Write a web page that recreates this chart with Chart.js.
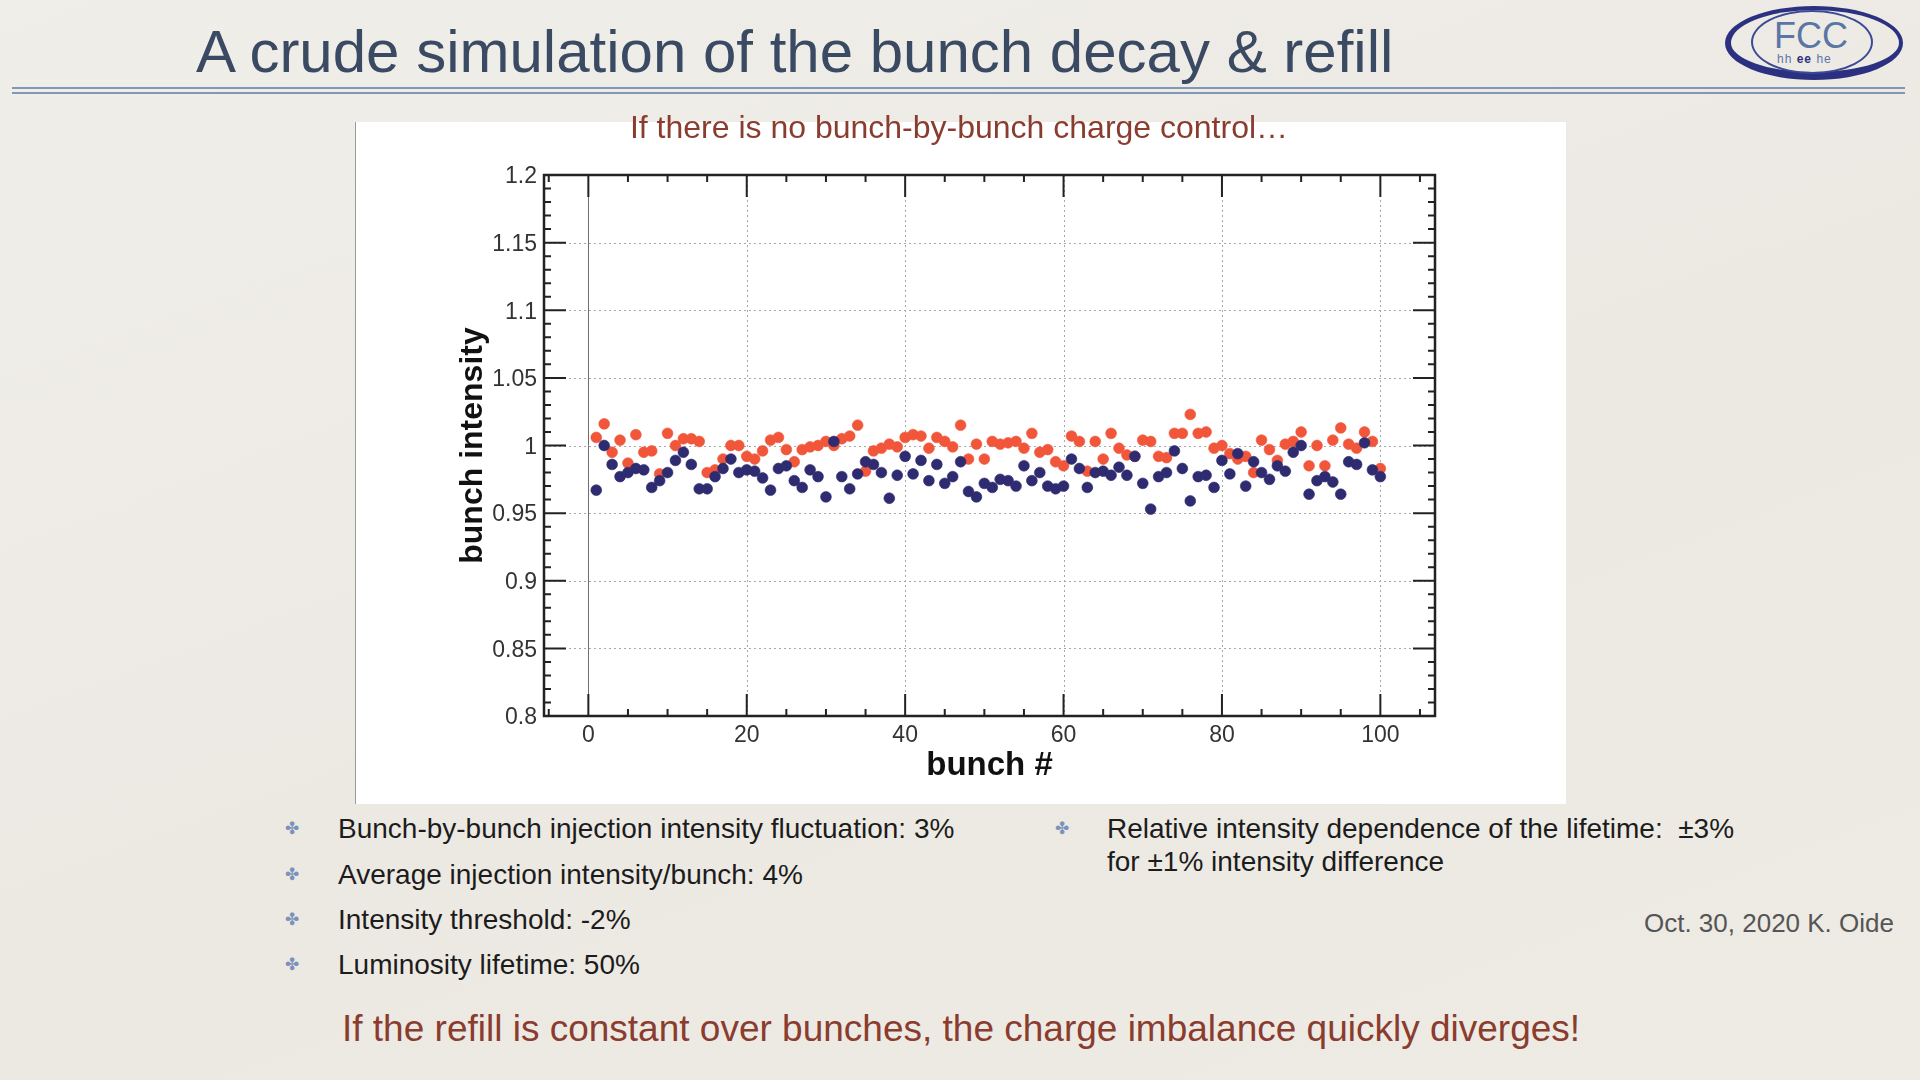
<!DOCTYPE html>
<html>
<head>
<meta charset="utf-8">
<script src="https://cdn.jsdelivr.net/npm/chart.js@4.4.1/dist/chart.umd.min.js"></script>
<style>
  html, body { margin: 0; padding: 0; }
  body {
    width: 1920px; height: 1080px; position: relative; overflow: hidden;
    background: linear-gradient(160deg, #f0eee9 0%, #ece9e3 55%, #eeebe5 100%);
    font-family: "Liberation Sans", Arial, Helvetica, sans-serif;
  }
  .abs { position: absolute; white-space: nowrap; line-height: 1; }
  #title { left: 196px; top: 22px; font-size: 60px; color: #3b4a63; }
  .rule { position: absolute; left: 12px; width: 1893px; height: 2px; background: #8097b5; }
  #panel { position: absolute; left: 355px; top: 122px; background: #fff; border-left: 1px solid #9a9a9a; }
  #subtitle { left: 959px; top: 111px; transform: translateX(-50%); font-size: 32px; color: #8a3c2f; }
  .bul { font-size: 17px; color: #7b93bb; font-family: "DejaVu Sans", sans-serif; }
  .txt { font-size: 28px; color: #1c1c1c; }
  #date { right: 26px; top: 910px; font-size: 26px; color: #555; }
  #bottom { left: 342px; top: 1010px; font-size: 37px; color: #8a3c2f; }
  #logo { position: absolute; left: 1725px; top: 6px; width: 178px; height: 74px; }
  #logo .outer { position: absolute; inset: 0; border-radius: 50%; border: 4px solid #2b3180; border-bottom-width: 8px; border-left-width: 6px; box-sizing: border-box; }
  #logo .inner { position: absolute; left: 26px; top: 4px; width: 122px; height: 64px; border-radius: 50%; border: 2px solid #3c4a96; box-sizing: border-box; }
  #logo .fcc { position: absolute; left: 49px; top: 12px; font-size: 36px; color: #5a76a6; line-height: 1; }
  #logo .hh { position: absolute; left: 52px; top: 47px; font-size: 12px; color: #5a76a6; letter-spacing: 1px; line-height: 1; }
</style>
</head>
<body>
<div id="title" class="abs">A crude simulation of the bunch decay &amp; refill</div>
<div class="rule" style="top:87px"></div>
<div class="rule" style="top:92px"></div>
<div id="logo">
  <div class="outer"></div>
  <div class="inner"></div>
  <div class="fcc">FCC</div>
  <div class="hh">hh <b style="color:#2b3180">ee</b> he</div>
</div>

<div id="panel"><canvas id="chart" width="1210" height="682"></canvas></div>
<div id="subtitle" class="abs">If there is no bunch-by-bunch charge control…</div>

<div class="abs bul" style="left:285px;top:820px">✤</div>
<div class="abs txt" style="left:338px;top:815px">Bunch-by-bunch injection intensity fluctuation: 3%</div>
<div class="abs bul" style="left:285px;top:866px">✤</div>
<div class="abs txt" style="left:338px;top:861px">Average injection intensity/bunch: 4%</div>
<div class="abs bul" style="left:285px;top:911px">✤</div>
<div class="abs txt" style="left:338px;top:906px">Intensity threshold: -2%</div>
<div class="abs bul" style="left:285px;top:956px">✤</div>
<div class="abs txt" style="left:338px;top:951px">Luminosity lifetime: 50%</div>

<div class="abs bul" style="left:1055px;top:820px">✤</div>
<div class="abs txt" style="left:1107px;top:815px">Relative intensity dependence of the lifetime:&nbsp; ±3%</div>
<div class="abs txt" style="left:1107px;top:848px">for ±1% intensity difference</div>

<div id="date" class="abs">Oct. 30, 2020 K. Oide</div>
<div id="bottom" class="abs">If the refill is constant over bunches, the charge imbalance quickly diverges!</div>

<script>
// bunch numbers
const bunchNo = [
  1,2,3,4,5,6,7,8,9,10,11,12,13,14,15,16,17,18,19,20,
  21,22,23,24,25,26,27,28,29,30,31,32,33,34,35,36,37,38,39,40,
  41,42,43,44,45,46,47,48,49,50,51,52,53,54,55,56,57,58,59,60,
  61,62,63,64,65,66,67,68,69,70,71,72,73,74,75,76,77,78,79,80,
  81,82,83,84,85,86,87,88,89,90,91,92,93,94,95,96,97,98,99,100
];

// red points
const redVals = [
  1.006,1.016,0.995,1.004,0.987,1.008,0.995,0.996,0.979,1.009,
  1.000,1.005,1.005,1.003,0.980,0.982,0.990,1.000,1.000,0.992,
  0.990,0.996,1.004,1.006,0.997,0.988,0.997,0.999,1.000,1.003,
  1.000,1.005,1.007,1.015,0.981,0.996,0.998,1.001,0.999,1.006,
  1.008,1.007,0.998,1.006,1.003,0.999,1.015,0.990,1.001,0.990,
  1.003,1.001,1.002,1.003,0.998,1.009,0.995,0.997,0.988,0.985,
  1.007,1.003,0.981,1.003,0.990,1.009,0.998,0.993,0.992,1.004,
  1.003,0.992,0.991,1.009,1.009,1.023,1.009,1.010,0.998,1.000,
  0.994,0.990,0.992,0.980,1.004,0.997,0.989,1.001,1.003,1.010,
  0.985,1.000,0.985,1.004,1.013,1.001,0.998,1.010,1.003,0.983
];

// blue points
const blueVals = [
  0.967,1.000,0.986,0.977,0.980,0.983,0.982,0.969,0.974,0.980,
  0.989,0.995,0.986,0.968,0.968,0.977,0.983,0.990,0.980,0.982,
  0.981,0.976,0.967,0.983,0.985,0.974,0.969,0.982,0.977,0.962,
  1.003,0.977,0.968,0.979,0.988,0.986,0.980,0.961,0.978,0.992,
  0.979,0.989,0.974,0.986,0.972,0.977,0.988,0.966,0.962,0.972,
  0.969,0.975,0.974,0.970,0.985,0.974,0.980,0.970,0.968,0.970,
  0.990,0.983,0.969,0.980,0.981,0.978,0.984,0.978,0.992,0.972,
  0.953,0.977,0.980,0.996,0.983,0.959,0.977,0.978,0.969,0.989,
  0.979,0.994,0.970,0.988,0.980,0.975,0.985,0.981,0.995,1.000,
  0.964,0.974,0.977,0.973,0.964,0.988,0.986,1.002,0.982,0.977
];

const xTicks = [0, 20, 40, 60, 80, 100];
const yTicks = [0.8, 0.85, 0.9, 0.95, 1.0, 1.05, 1.1, 1.15, 1.2];
const yTickLabels = ['0.8', '0.85', '0.9', '0.95', '1', '1.05', '1.1', '1.15', '1.2'];

const FONT = '"Liberation Sans", Arial, Helvetica, sans-serif';

// frame, inward ticks on all four sides, dotted grid
const framePlugin = {
  id: 'frame',
  beforeDatasetsDraw(chart) {
    const {ctx, chartArea: a, scales: {x, y}} = chart;
    ctx.save();
    ctx.strokeStyle = '#a8a8a8';
    ctx.lineWidth = 1;
    ctx.setLineDash([2, 3]);
    xTicks.forEach(v => {
      if (v === 0) return;
      const px = Math.round(x.getPixelForValue(v)) + 0.5;
      ctx.beginPath(); ctx.moveTo(px, a.top); ctx.lineTo(px, a.bottom); ctx.stroke();
    });
    yTicks.slice(1, -1).forEach(v => {
      const py = Math.round(y.getPixelForValue(v)) + 0.5;
      ctx.beginPath(); ctx.moveTo(a.left, py); ctx.lineTo(a.right, py); ctx.stroke();
    });
    ctx.setLineDash([]);
    ctx.strokeStyle = '#6e6e6e';
    const z = Math.round(x.getPixelForValue(0)) + 0.5;
    ctx.beginPath(); ctx.moveTo(z, a.top); ctx.lineTo(z, a.bottom); ctx.stroke();
    ctx.restore();
  },
  afterDatasetsDraw(chart) {
    const {ctx, chartArea: a, scales: {x, y}} = chart;
    ctx.save();
    ctx.strokeStyle = '#222';
    ctx.lineWidth = 2;
    const big = 22, small = 7;
    for (let v = -5; v <= 105; v += 5) {
      const px = x.getPixelForValue(v);
      const len = v % 20 === 0 && v >= 0 ? big : small;
      ctx.beginPath();
      ctx.moveTo(px, a.bottom); ctx.lineTo(px, a.bottom - len);
      ctx.moveTo(px, a.top); ctx.lineTo(px, a.top + len);
      ctx.stroke();
    }
    for (let i = 80; i <= 120; i++) {
      const py = y.getPixelForValue(i / 100);
      const len = i % 5 === 0 ? big : small;
      ctx.beginPath();
      ctx.moveTo(a.left, py); ctx.lineTo(a.left + len, py);
      ctx.moveTo(a.right, py); ctx.lineTo(a.right - len, py);
      ctx.stroke();
    }
    ctx.lineWidth = 2.5;
    ctx.strokeRect(a.left, a.top, a.right - a.left, a.bottom - a.top);
    ctx.restore();
  }
};

new Chart(document.getElementById('chart'), {
  type: 'scatter',
  data: {
    datasets: [
      {
        label: 'blue',
        data: bunchNo.map((n, i) => ({x: n, y: blueVals[i]})),
        backgroundColor: '#2e2b70',
        borderColor: 'rgba(46,43,112,0.6)',
        borderWidth: 1,
        pointRadius: 5.4
      },
      {
        label: 'red',
        data: bunchNo.map((n, i) => ({x: n, y: redVals[i]})),
        backgroundColor: '#f1563a',
        borderColor: 'rgba(241,86,58,0.6)',
        borderWidth: 1,
        pointRadius: 5.4
      }
    ]
  },
  options: {
    responsive: false,
    animation: false,
    devicePixelRatio: 1,
    layout: { padding: { left: 0, top: 53, right: 131, bottom: 0 } },
    plugins: { legend: { display: false }, tooltip: { enabled: false } },
    scales: {
      x: {
        type: 'linear', min: -5.6, max: 106.9,
        grid: { display: false, drawTicks: false },
        border: { display: false },
        afterBuildTicks: s => { s.ticks = xTicks.map(v => ({value: v})); },
        afterFit: s => { s.height = 88; },
        ticks: { autoSkip: false, maxRotation: 0, padding: 6, color: '#333', font: { family: FONT, size: 23 } },
        title: { display: true, text: 'bunch #', color: '#111', padding: { top: 0, bottom: 18 },
                 font: { family: FONT, size: 33, weight: 'bold' } }
      },
      y: {
        min: 0.8, max: 1.2,
        grid: { display: false, drawTicks: false },
        border: { display: false },
        afterBuildTicks: s => { s.ticks = yTicks.map(v => ({value: v})); },
        afterFit: s => { s.width = 188; },
        ticks: { autoSkip: false, padding: 7, labelOffset: 2, color: '#333', font: { family: FONT, size: 23 },
                 callback: (v, i) => yTickLabels[i] },
        title: { display: true, text: 'bunch intensity', color: '#111', padding: { top: 98, bottom: 0 },
                 font: { family: FONT, size: 32, weight: 'bold' } }
      }
    }
  },
  plugins: [framePlugin]
});
</script>
</body>
</html>
